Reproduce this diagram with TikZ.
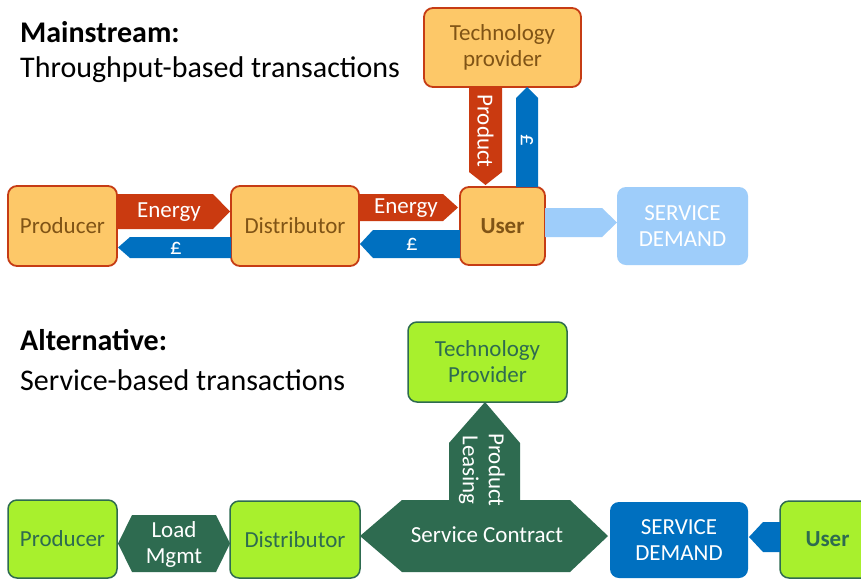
\documentclass[tikz,border=0pt]{standalone}
\usepackage{fontspec}
\setmainfont{Carlito}
\definecolor{orFill}{RGB}{253,200,104}
\definecolor{orBorder}{RGB}{198,60,20}
\definecolor{orText}{RGB}{128,84,22}
\definecolor{redArr}{RGB}{202,58,16}
\definecolor{blueArr}{RGB}{0,112,192}
\definecolor{ltBlue}{RGB}{158,205,250}
\definecolor{grFill}{RGB}{168,240,45}
\definecolor{grDark}{RGB}{46,107,80}
\tikzset{
  obox/.style={draw=orBorder, line width=1.8pt, fill=orFill, rounded corners=9pt, text=orText, font=\fontsize{23}{26}\selectfont, align=center, inner sep=0pt},
  gbox/.style={draw=grDark, line width=1.5pt, fill=grFill, rounded corners=9pt, text=grDark, font=\fontsize{23}{26}\selectfont, align=center, inner sep=0pt},
  bbox/.style={rounded corners=9pt, text=white, font=\fontsize{23}{26}\selectfont, align=center, inner sep=0pt},
  lbl/.style={text=white, font=\fontsize{23}{26}\selectfont, align=center, inner sep=0pt},
  ttl/.style={anchor=base west, inner sep=0pt, font=\fontsize{30}{34}\selectfont}
}
\begin{document}
\begin{tikzpicture}[x=1pt,y=-1pt]
\useasboundingbox (0,0) rectangle (861,579);
\fill[white] (0,0) rectangle (861,579);

% ---------- titles
\node[ttl, font=\fontsize{30}{34}\selectfont\bfseries] (t1) at (20,42) {Mainstream:};
\node[ttl] (t2) at (20,77) {Throughput-based transactions};
\node[ttl, font=\fontsize{30}{34}\selectfont\bfseries] (t3) at (20,350) {Alternative:};
\node[ttl] (t4) at (20,390) {Service-based transactions};

% ---------- top boxes
\node[obox, minimum width=157pt, minimum height=79pt] (tech1) at (502.5,47.5) {Technology\\provider};
\node[obox, minimum width=109pt, minimum height=80pt] (prod1) at (62.5,226) {Producer};
\node[obox, minimum width=128pt, minimum height=80pt] (dist1) at (295,226) {Distributor};
\node[obox, minimum width=85pt, minimum height=78pt, font=\fontsize{23}{26}\selectfont\bfseries] (user1) at (502.5,226) {User};
\node[bbox, fill=ltBlue, minimum width=131pt, minimum height=78pt] (sd1) at (682.5,226) {SERVICE\\DEMAND};

% ---------- top arrows
\fill[redArr] (117,194) -- (213,194) -- (230,211.5) -- (213,229) -- (117,229) -- cycle;
\node[lbl] (e1) at (169,212) {Energy};
\fill[blueArr] (231,237) -- (130,237) -- (118,247.5) -- (130,258) -- (231,258) -- cycle;
\node[lbl] (p1) at (176,248) {£};
\fill[redArr] (359,194) -- (443,194) -- (458,207.5) -- (443,221) -- (359,221) -- cycle;
\node[lbl] (e2) at (406,208) {Energy};
\fill[blueArr] (460,230) -- (373,230) -- (360,244) -- (373,258) -- (460,258) -- cycle;
\node[lbl] (p2) at (412,244) {£};
\fill[redArr] (469,87) -- (502,87) -- (502,172) -- (485.5,185) -- (469,172) -- cycle;
\node[lbl, rotate=-90] (pr) at (485.5,131) {Product};
\fill[blueArr] (516,187) -- (516,98) -- (527,87) -- (538,98) -- (538,187) -- cycle;
\node[lbl, rotate=-90] (p3) at (527,140) {£};
\fill[ltBlue] (545,208) -- (602,208) -- (617,222.5) -- (602,237) -- (545,237) -- cycle;

% ---------- bottom boxes
\node[gbox, minimum width=159pt, minimum height=80pt] (tech2) at (487.5,362) {Technology\\Provider};
\node[gbox, minimum width=109pt, minimum height=78pt] (prod2) at (62.5,539) {Producer};
\node[gbox, minimum width=130pt, minimum height=77pt] (dist2) at (295,539.5) {Distributor};
\node[bbox, fill=blueArr, minimum width=138pt, minimum height=76pt] (sd2) at (679,540) {SERVICE\\DEMAND};
\node[gbox, minimum width=95pt, minimum height=77pt, font=\fontsize{23}{26}\selectfont\bfseries] (user2) at (827.5,539.5) {User};

% ---------- bottom arrows
\fill[grDark] (118,543.5) -- (132,515) -- (216,515) -- (230,543.5) -- (216,572) -- (132,572) -- cycle;
\node[lbl] (lm) at (174,544) {Load\\Mgmt};
\fill[grDark] (360,536) -- (402,500) -- (449,500) -- (449,443) -- (485,402) -- (520,443) -- (520,500) -- (570,500) -- (608,536) -- (570,572) -- (402,572) -- cycle;
\node[lbl] (sc) at (487,535) {Service Contract};
\node[lbl, rotate=-90] (pl) at (482,470) {Product\\Leasing};
\fill[blueArr] (780,522) -- (763,522) -- (749,537) -- (763,552) -- (780,552) -- cycle;
\end{tikzpicture}
\end{document}
